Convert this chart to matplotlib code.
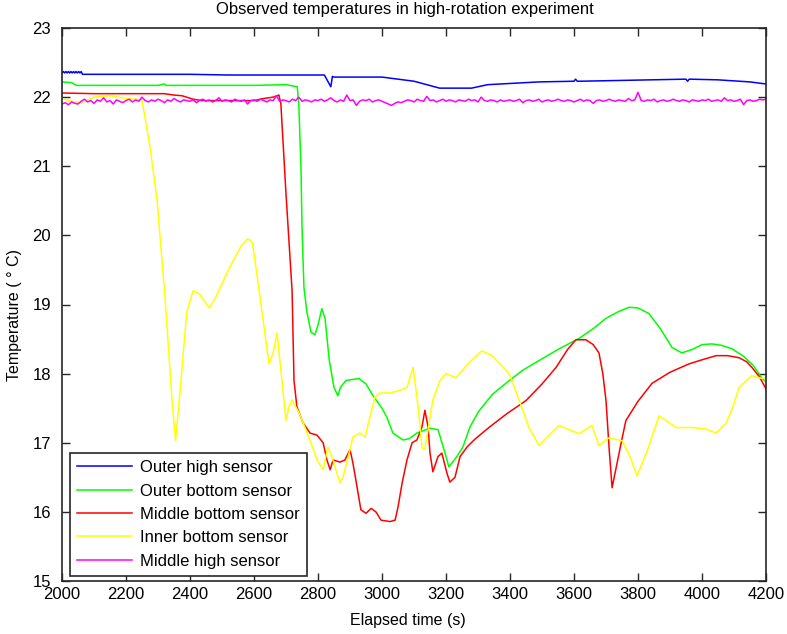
import numpy as np
import matplotlib
matplotlib.use("Agg")
import matplotlib.pyplot as plt

plt.rcParams['font.family'] = ['Liberation Sans', 'DejaVu Sans']

# ---------------- data ----------------
outer_high_t = [2000, 2004, 2008, 2012, 2016, 2020, 2024, 2028, 2032, 2036, 2040, 2044, 2048, 2052, 2056, 2060,
                2064, 2400, 2520, 2820, 2840, 2845, 2850,
                3000, 3050, 3100, 3140, 3180, 3280, 3330, 3490, 3600, 3605, 3610, 3620, 3950, 3955,
                3960, 4050, 4150, 4200]
outer_high_T = [22.35, 22.37, 22.35, 22.37, 22.35, 22.37, 22.35, 22.37, 22.35, 22.37, 22.35, 22.37, 22.35, 22.37, 22.35, 22.37,
                22.33, 22.33, 22.32, 22.32, 22.15, 22.30, 22.29,
                22.29, 22.26, 22.23, 22.18, 22.13, 22.13, 22.18, 22.22, 22.23, 22.26, 22.23, 22.23, 22.26, 22.23,
                22.26, 22.25, 22.22, 22.19]

outer_bottom_t = [2000, 2030, 2045, 2300, 2320, 2325, 2600, 2700, 2735, 2740, 2747, 2750, 2756, 2765, 2778,
                  2790, 2800, 2812, 2822, 2835, 2850, 2862, 2870, 2887, 2928, 2950, 2972, 3000, 3015, 3034,
                  3066, 3085, 3109, 3150, 3175, 3197, 3209, 3234, 3253, 3275, 3303, 3345, 3387, 3440, 3491,
                  3550, 3616, 3660, 3700, 3740, 3772, 3800, 3834, 3870, 3906, 3937, 3970, 4000, 4031, 4060,
                  4094, 4130, 4160, 4188, 4200]
outer_bottom_T = [22.22, 22.21, 22.17, 22.17, 22.19, 22.17, 22.17, 22.18, 22.15, 21.90, 20.94, 20.12, 19.25, 18.90, 18.60,
                  18.56, 18.70, 18.94, 18.80, 18.20, 17.80, 17.68, 17.80, 17.90, 17.93, 17.85, 17.68, 17.50, 17.37, 17.14,
                  17.04, 17.06, 17.14, 17.21, 17.19, 16.85, 16.65, 16.80, 16.94, 17.23, 17.46, 17.70, 17.86, 18.05, 18.19,
                  18.35, 18.51, 18.65, 18.80, 18.90, 18.96, 18.95, 18.87, 18.65, 18.38, 18.30, 18.35, 18.42, 18.43, 18.41,
                  18.36, 18.25, 18.12, 17.93, 17.88]

middle_bottom_t = [2000, 2100, 2200, 2320, 2350, 2375, 2410, 2437, 2500, 2600, 2630, 2660, 2678, 2684, 2700,
                   2719, 2725, 2734, 2753, 2775, 2797, 2816, 2828, 2838, 2847, 2869, 2884, 2900, 2909, 2922,
                   2934, 2950, 2966, 2981, 2997, 3025, 3041, 3050, 3063, 3078, 3094, 3109, 3125, 3134, 3144,
                   3150, 3159, 3175, 3187, 3203, 3212, 3228, 3244, 3266, 3290, 3334, 3390, 3450, 3500, 3544,
                   3580, 3606, 3637, 3660, 3678, 3690, 3700, 3710, 3719, 3730, 3747, 3762, 3800, 3844, 3900,
                   3959, 4000, 4044, 4080, 4116, 4140, 4156, 4180, 4200]
middle_bottom_T = [22.06, 22.05, 22.05, 22.05, 22.03, 22.02, 21.97, 21.95, 21.95, 21.95, 21.98, 22.00, 22.03, 21.90, 20.60,
                   19.20, 17.90, 17.52, 17.29, 17.14, 17.11, 17.00, 16.75, 16.61, 16.75, 16.72, 16.75, 16.90, 16.71, 16.36,
                   16.03, 15.98, 16.05, 16.00, 15.88, 15.86, 15.88, 16.07, 16.42, 16.75, 17.00, 17.04, 17.23, 17.47, 17.23,
                   16.85, 16.58, 16.80, 16.85, 16.56, 16.43, 16.50, 16.80, 16.94, 17.05, 17.22, 17.42, 17.61, 17.85, 18.09,
                   18.35, 18.49, 18.49, 18.42, 18.30, 18.00, 17.61, 16.90, 16.35, 16.60, 16.99, 17.32, 17.60, 17.86, 18.02,
                   18.14, 18.20, 18.26, 18.26, 18.23, 18.17, 18.09, 17.95, 17.78]

inner_bottom_t = [2000, 2030, 2060, 2100, 2150, 2200, 2230, 2250, 2275, 2297, 2322, 2344, 2355, 2370, 2390,
                  2410, 2430, 2460, 2480, 2520, 2560, 2580, 2595, 2616, 2647, 2660, 2672, 2685, 2700, 2709,
                  2719, 2741, 2762, 2778, 2797, 2816, 2831, 2844, 2859, 2869, 2878, 2900, 2909, 2931, 2947,
                  2962, 2978, 2994, 3025, 3056, 3078, 3097, 3113, 3125, 3134, 3144, 3159, 3181, 3200, 3231,
                  3270, 3312, 3344, 3397, 3430, 3459, 3491, 3520, 3553, 3616, 3656, 3678, 3709, 3750, 3775,
                  3797, 3830, 3866, 3919, 3970, 4012, 4044, 4075, 4095, 4116, 4156, 4188, 4200]
inner_bottom_T = [21.98, 21.94, 21.92, 22.00, 22.02, 21.98, 21.97, 21.96, 21.28, 20.51, 19.10, 17.60, 17.03, 17.80, 18.90,
                  19.20, 19.15, 18.95, 19.10, 19.50, 19.85, 19.95, 19.90, 19.20, 18.14, 18.30, 18.59, 18.00, 17.32, 17.52,
                  17.62, 17.43, 17.19, 17.00, 16.75, 16.61, 16.94, 16.79, 16.56, 16.42, 16.50, 16.90, 17.08, 17.14, 17.08,
                  17.37, 17.66, 17.72, 17.72, 17.76, 17.80, 18.09, 17.52, 16.93, 16.90, 17.19, 17.62, 17.90, 18.00, 17.94,
                  18.15, 18.33, 18.26, 18.00, 17.60, 17.22, 16.96, 17.10, 17.25, 17.13, 17.25, 16.96, 17.07, 17.03, 16.80,
                  16.52, 16.90, 17.39, 17.22, 17.22, 17.20, 17.14, 17.28, 17.50, 17.80, 17.97, 17.93, 17.95]

middle_high_t = np.arange(2000, 4201, 10)
middle_high_T = [
    21.90, 21.92, 21.89, 21.93, 21.91, 21.90, 21.94, 21.97, 21.93, 21.95, 21.91, 21.96, 21.94, 21.99, 21.93, 21.95, 21.90, 21.96, 21.94, 21.92,
    21.95, 21.97, 21.93, 21.96, 21.94, 22.00, 21.95, 21.93, 21.96, 21.94, 21.97, 21.95, 21.92, 21.96, 21.94, 21.98, 21.95, 21.93, 21.96, 21.95,
    21.94, 21.96, 21.92, 21.95, 21.97, 21.94, 21.96, 21.93, 21.95, 21.99, 21.94, 21.96, 21.95, 21.93, 21.97, 21.95, 21.94, 21.96, 21.90, 21.95,
    21.96, 21.94, 21.97, 21.95, 21.93, 21.96, 21.95, 22.02, 21.94, 21.96, 21.95, 21.93, 21.97, 21.95, 22.00, 21.94, 21.96, 21.95, 21.93, 21.96,
    21.95, 21.97, 21.94, 21.96, 21.99, 21.95, 21.93, 21.96, 21.94, 22.03, 21.95, 21.96, 21.88, 21.94, 21.96, 21.95, 21.97, 21.93, 21.95, 21.96,
    21.94, 21.92, 21.90, 21.88, 21.91, 21.93, 21.92, 21.94, 21.96, 21.95, 21.93, 21.97, 21.95, 21.94, 22.01, 21.95, 21.96, 21.93, 21.95, 21.97,
    21.94, 21.96, 21.95, 21.93, 21.96, 21.95, 21.94, 21.97, 21.95, 21.96, 21.93, 22.00, 21.95, 21.94, 21.96, 21.95, 21.93, 21.96, 21.94, 21.95,
    21.96, 21.94, 21.95, 21.97, 21.92, 21.95, 21.96, 21.94, 21.95, 21.97, 21.93, 21.95, 21.96, 21.94, 21.95, 21.97, 21.95, 21.94, 21.96, 21.95,
    21.93, 21.95, 21.97, 21.94, 21.96, 21.95, 21.91, 21.95, 21.96, 21.94, 21.95, 21.97, 21.95, 21.94, 21.96, 21.95, 21.94, 21.98, 21.95, 21.96,
    22.07, 21.95, 21.94, 21.96, 21.95, 21.97, 21.93, 21.95, 21.96, 21.94, 21.95, 21.97, 21.95, 21.94, 21.96, 21.95, 21.93, 21.96, 21.95, 21.94,
    21.96, 21.95, 21.97, 21.94, 21.95, 21.96, 21.94, 21.99, 21.95, 21.96, 21.94, 21.95, 21.97, 21.89, 21.95, 21.96, 21.94, 21.95, 21.97, 21.96,
    21.97]

series_labels = ["Outer high sensor", "Outer bottom sensor", "Middle bottom sensor",
                 "Inner bottom sensor", "Middle high sensor"]
x_ticks = list(range(2000, 4201, 200))
y_ticks = list(range(15, 24))

# ---------------- plot ----------------
fig = plt.figure(figsize=(7.87, 6.34), dpi=100)
ax = fig.add_axes([62 / 787, 53 / 634, 704 / 787, 553 / 634])

lw = 1.1
ax.plot(outer_high_t, outer_high_T, color=(0, 0, 1), lw=lw, label=series_labels[0])
ax.plot(outer_bottom_t, outer_bottom_T, color=(0, 1, 0), lw=lw, label=series_labels[1])
ax.plot(middle_bottom_t, middle_bottom_T, color=(1, 0, 0), lw=lw, label=series_labels[2])
ax.plot(inner_bottom_t, inner_bottom_T, color=(1, 1, 0), lw=lw, label=series_labels[3])
ax.plot(middle_high_t, middle_high_T, color=(1, 0, 1), lw=lw, label=series_labels[4])

ax.set_xlim(2000, 4200)
ax.set_ylim(15, 23)
ax.set_xticks(x_ticks)
ax.set_yticks(y_ticks)
ax.tick_params(direction='in', top=True, right=True, length=6, width=1,
               labelsize=12, color='#262626', labelcolor='black')
ax.tick_params(axis='x', pad=4)
ax.tick_params(axis='y', pad=8)
for s in ax.spines.values():
    s.set_linewidth(1.2)
    s.set_color('#262626')

ax.text(0.487, 1.0 + 11 / 553, "Observed temperatures in high-rotation experiment",
        transform=ax.transAxes, ha='center', va='bottom', fontsize=12)
ax.set_xlabel("Elapsed time (s)", fontsize=11.5)
ax.xaxis.set_label_coords(0.491, -0.058)
ax.set_ylabel("Temperature ( \u00b0 C)", fontsize=11.5)
ax.yaxis.set_label_coords(-0.057, 0.481)

leg = ax.legend(loc='lower left', bbox_to_anchor=(0.011, 0.009), fontsize=12,
                handlelength=3.3, handletextpad=0.45, borderpad=0.45, labelspacing=0.5,
                fancybox=False, framealpha=1, edgecolor='#262626', borderaxespad=0)
leg.get_frame().set_linewidth(1.2)

fig.savefig("out.png", dpi=100)
